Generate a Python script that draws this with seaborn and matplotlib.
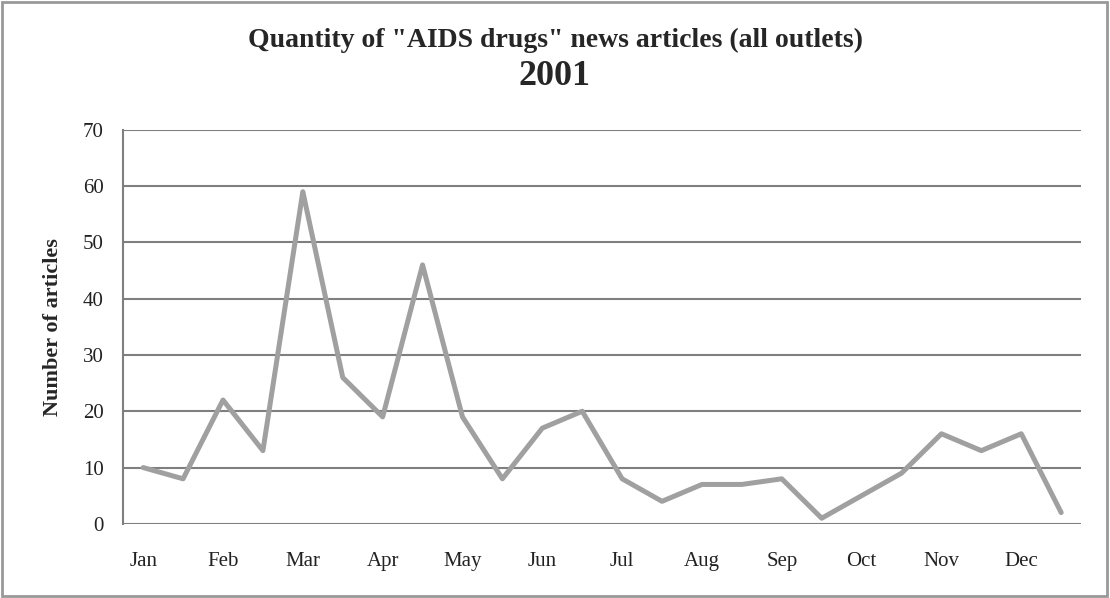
import matplotlib
matplotlib.use('Agg')
import matplotlib.pyplot as plt
import seaborn as sns
import pandas as pd
import numpy as np

# dados (duas observações por mês)
months = ['Jan', 'Feb', 'Mar', 'Apr', 'May', 'Jun',
          'Jul', 'Aug', 'Sep', 'Oct', 'Nov', 'Dec']
articles = [10, 8, 22, 13, 59, 26, 19, 46, 19, 8, 17, 20,
            8, 4, 7, 7, 8, 1, 5, 9, 16, 13, 16, 2]

df = pd.DataFrame({'period': np.arange(len(articles)), 'articles': articles})

sns.set_style('white')
plt.rcParams['font.family'] = ['Liberation Serif', 'DejaVu Serif']

fig = plt.figure(figsize=(11.1, 5.98), dpi=100)
ax = fig.add_axes([0.111, 0.124, 0.863, 0.659])

grid_c = '#7f7f7f'
for v in range(0, 71, 10):
    ax.axhline(v, color=grid_c, lw=1.5, zorder=1)

sns.lineplot(x='period', y='articles', data=df, ax=ax,
             color='#a0a0a0', linewidth=3.6, zorder=3)

ax.set_xlim(-0.5, 23.5)
ax.set_ylim(0, 70)
ax.set_yticks(range(0, 71, 10))
ax.set_xticks(np.arange(0, 24, 2))
ax.set_xticklabels(months)
ax.tick_params(axis='both', length=0, labelsize=15, colors='#222222')
ax.tick_params(axis='x', pad=20)
ax.tick_params(axis='y', pad=14)
for s in ['top', 'right', 'bottom']:
    ax.spines[s].set_visible(False)
ax.spines['left'].set_color(grid_c)
ax.spines['left'].set_linewidth(1.5)

ax.set_xlabel('')
ax.set_ylabel('Number of articles', fontsize=16, fontweight='bold', labelpad=14)

fig.text(0.5, 0.932, 'Quantity of "AIDS drugs" news articles (all outlets)',
         ha='center', va='center', fontsize=20, fontweight='bold')
fig.text(0.5, 0.872, '2001', ha='center', va='center', fontsize=26, fontweight='bold')

# borda da figura
fig.patches.append(plt.Rectangle((0.002, 0.003), 0.995, 0.993, transform=fig.transFigure,
                                 fill=False, edgecolor='#999999', lw=2))

fig.savefig('out.png', dpi=100)
